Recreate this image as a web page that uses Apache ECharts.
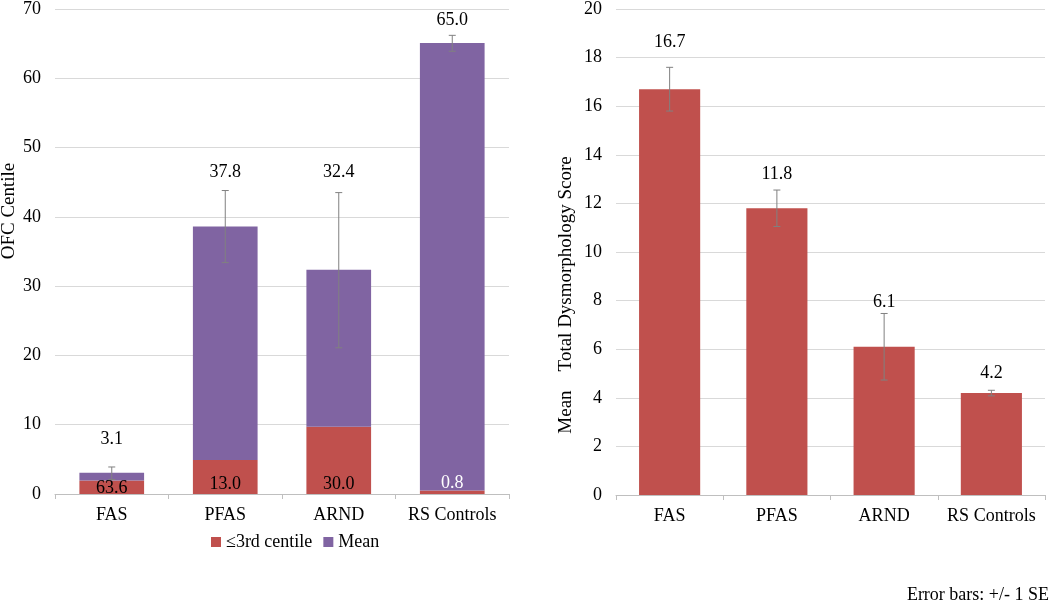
<!DOCTYPE html>
<html><head><meta charset="utf-8">
<script src="https://cdn.jsdelivr.net/npm/echarts@6/dist/echarts.min.js"></script>
<style>html,body{margin:0;padding:0;background:#fff}#c{width:1050px;height:603px}</style>
</head><body><div id="c"></div>
<script>
const categories = ["FAS", "PFAS", "ARND", "RS Controls"];
// Left chart: OFC centile (stacked)
const belowThirdHeight = [1.95, 4.9, 9.7, 0.5];
const meanRemainder = [1.1, 33.7, 22.65, 64.6];
const pctLabels = ["63.6", "13.0", "30.0", "0.8"];
const meanLabels = ["3.1", "37.8", "32.4", "65.0"];
const ofcErrLow = [2.1, 33.4, 21.1, 63.9];
const ofcErrHigh = [3.9, 43.8, 43.5, 66.2];
// Right chart: Mean Total Dysmorphology Score
const dysScore = [16.7, 11.8, 6.1, 4.2];
const dysErrLow = [15.8, 11.05, 4.73, 4.08];
const dysErrHigh = [17.6, 12.55, 7.47, 4.31];

const FONT = "Liberation Serif";
const RED = "#C0504D", PURPLE = "#8064A2", ERR = "#808080";
const meanLabelDist = [25, 45, 89, 14];
const dysLabelDist = [16, 7, 2, 8];
const pctLabelColor = ["#000", "#000", "#000", "#fff"];
const pctLabelDist = [-3, 1, 1, 2];

const serifRich = {s: {fontFamily: FONT, fontSize: 18, color: '#000'}};

function errRender(params, api) {
  const x = api.value(0), lo = api.value(1), hi = api.value(2);
  const p1 = api.coord([x, hi]), p2 = api.coord([x, lo]);
  const w = 3.5;
  const st = {stroke: ERR, lineWidth: 1};
  return {type: 'group', children: [
    {type: 'line', shape: {x1: p1[0], y1: p1[1], x2: p2[0], y2: p2[1]}, style: st},
    {type: 'line', shape: {x1: p1[0]-w, y1: p1[1], x2: p1[0]+w, y2: p1[1]}, style: st},
    {type: 'line', shape: {x1: p2[0]-w, y1: p2[1], x2: p2[0]+w, y2: p2[1]}, style: st}
  ]};
}

function xAxisFor(idx) {
  return {
    gridIndex: idx, type: 'category', data: categories, boundaryGap: true,
    axisLine: {lineStyle: {color: '#BFBFBF', width: 1}},
    axisTick: {show: true, length: 5, lineStyle: {color: '#BFBFBF'}},
    axisLabel: {interval: 0, color: '#000', fontFamily: FONT, fontSize: 18, margin: 12,
      formatter: v => '{s|' + v + '}', rich: serifRich}
  };
}
function yAxisFor(idx, max, interval) {
  return {
    gridIndex: idx, type: 'value', min: 0, max: max, interval: interval,
    axisLine: {show: false}, axisTick: {show: false},
    splitLine: {lineStyle: {color: '#D9D9D9', width: 1}},
    axisLabel: {color: '#000', fontFamily: FONT, fontSize: 18, margin: 14,
      formatter: v => '{s|' + v + '}', rich: serifRich}
  };
}

const option = {
  backgroundColor: '#fff',
  animation: false,
  textStyle: {fontFamily: FONT},
  grid: [
    {left: 55, right: 541, top: 7, bottom: 109},
    {left: 616, right: 5, top: 8, bottom: 108}
  ],
  xAxis: [xAxisFor(0), xAxisFor(1)],
  yAxis: [yAxisFor(0, 70, 10), yAxisFor(1, 20, 2)],
  legend: {
    data: [{name: '≤3rd centile'}, {name: 'Mean'}],
    left: 206, top: 528, itemWidth: 10, itemHeight: 10, itemGap: 11,
    icon: 'rect',
    formatter: n => '{s|' + n + '}',
    textStyle: {color: '#000', fontFamily: FONT, fontSize: 18, rich: serifRich}
  },
  graphic: [
    {type: 'text', x: 9, y: 211, rotation: Math.PI / 2,
      style: {text: 'OFC Centile', fontFamily: FONT, fontSize: 19, fill: '#000', align: 'center', verticalAlign: 'middle'}},
    {type: 'text', x: 566, y: 295, rotation: Math.PI / 2,
      style: {text: 'Mean    Total Dysmorphology Score', fontFamily: FONT, fontSize: 19, fill: '#000', align: 'center', verticalAlign: 'middle'}},
    {type: 'text', right: 1, top: 586,
      style: {text: 'Error bars: +/- 1 SE', fontFamily: FONT, fontSize: 18, fill: '#000'}}
  ],
  series: [
    {
      name: '≤3rd centile', type: 'bar', stack: 'ofc', xAxisIndex: 0, yAxisIndex: 0,
      barWidth: '57%', itemStyle: {color: RED},
      data: belowThirdHeight.map((v, i) => ({value: v, label: {color: pctLabelColor[i], distance: pctLabelDist[i]}})),
      label: {show: true, position: 'insideBottom', distance: 1, fontFamily: FONT, fontSize: 18,
        formatter: p => pctLabels[p.dataIndex]}
    },
    {
      name: 'Mean', type: 'bar', stack: 'ofc', xAxisIndex: 0, yAxisIndex: 0,
      barWidth: '57%', itemStyle: {color: PURPLE},
      data: meanRemainder.map((v, i) => ({value: v, label: {distance: meanLabelDist[i]}})),
      label: {show: true, position: 'top', color: '#000', fontFamily: FONT, fontSize: 18,
        formatter: p => meanLabels[p.dataIndex]}
    },
    {
      type: 'custom', xAxisIndex: 0, yAxisIndex: 0, renderItem: errRender, z: 5,
      data: categories.map((c, i) => [i, ofcErrLow[i], ofcErrHigh[i]])
    },
    {
      name: 'Dysmorphology', type: 'bar', xAxisIndex: 1, yAxisIndex: 1,
      barWidth: '57%', itemStyle: {color: RED},
      data: dysScore.map((v, i) => ({value: v, label: {distance: dysLabelDist[i] + (dysErrHigh[i] - v) * 24.35}})),
      label: {show: true, position: 'top', color: '#000', fontFamily: FONT, fontSize: 18,
        formatter: p => dysScore[p.dataIndex].toFixed(1)}
    },
    {
      type: 'custom', xAxisIndex: 1, yAxisIndex: 1, renderItem: errRender, z: 5,
      data: categories.map((c, i) => [i, dysErrLow[i], dysErrHigh[i]])
    }
  ]
};
const chart = echarts.init(document.getElementById('c'), null, {renderer: 'canvas'});
chart.setOption(option);
</script>
</body></html>
